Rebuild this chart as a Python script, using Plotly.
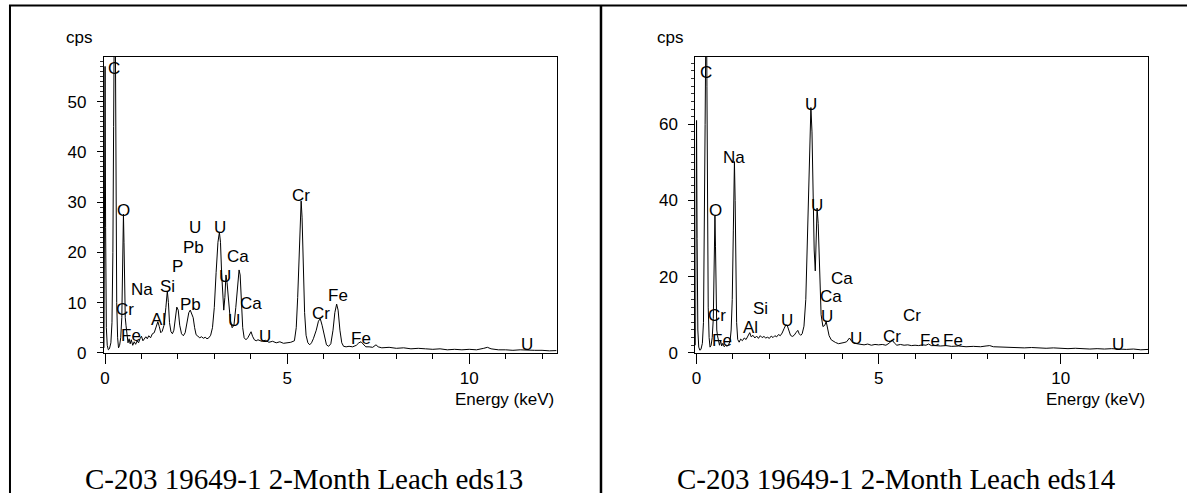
import plotly.graph_objects as go

W, H = 1187, 503

# ---------------- spectrum eds13 ----------------
energy_13 = [-0.03, -0.015, 0.0, 0.015, 0.035, 0.06, 0.09, 0.12, 0.16, 0.19, 0.215, 0.235, 0.255, 0.27, 0.285,
             0.30, 0.32, 0.345, 0.37, 0.40, 0.43, 0.46, 0.485, 0.505, 0.52, 0.535, 0.555, 0.575, 0.60, 0.63,
             0.66, 0.69, 0.72, 0.76, 0.80, 0.84, 0.88, 0.92, 0.96, 1.0, 1.04, 1.08, 1.12, 1.16, 1.20,
             1.25, 1.30, 1.35, 1.40, 1.45, 1.49, 1.53, 1.57, 1.62, 1.67, 1.71, 1.74, 1.77, 1.81, 1.85,
             1.89, 1.93, 1.97, 2.01, 2.05, 2.10, 2.15, 2.20, 2.25, 2.30, 2.34, 2.38, 2.42, 2.46, 2.50,
             2.55, 2.60, 2.65, 2.70, 2.75, 2.80, 2.85, 2.90, 2.95, 3.00, 3.05, 3.10, 3.14, 3.17, 3.20,
             3.23, 3.26, 3.29, 3.32, 3.35, 3.39, 3.44, 3.49, 3.54, 3.59, 3.64, 3.68, 3.71, 3.74, 3.78,
             3.82, 3.87, 3.92, 3.97, 4.01, 4.05, 4.10, 4.15, 4.20, 4.30, 4.40, 4.50, 4.60, 4.70, 4.80,
             4.90, 5.00, 5.10, 5.20, 5.25, 5.29, 5.33, 5.37, 5.385, 5.41, 5.44, 5.48, 5.52, 5.57, 5.62,
             5.67, 5.72, 5.80, 5.86, 5.91, 5.96, 6.02, 6.08, 6.14, 6.20, 6.26, 6.31, 6.36, 6.40, 6.45,
             6.50, 6.55, 6.62, 6.70, 6.80, 6.90, 6.97, 7.03, 7.09, 7.16, 7.25, 7.35, 7.44, 7.50, 7.60,
             7.80, 8.00, 8.20, 8.40, 8.60, 8.80, 9.00, 9.20, 9.40, 9.60, 9.80, 10.0, 10.2, 10.4, 10.5,
             10.6, 10.8, 11.0, 11.2, 11.4, 11.6, 11.8, 12.0, 12.2, 12.4]
cps_13 = [1.0, 20, 57, 25, 5, 1.5, 0.6, 0.8, 2.0, 6, 20, 45, 72, 85, 60,
          30, 10, 3, 1.0, 1.5, 3, 7, 17, 27.6, 22, 12, 7, 5.5, 3.5, 2.0,
          2.8, 1.8, 2.6, 1.5, 2.2, 1.7, 2.4, 2.0, 2.8, 3.3, 2.4, 2.7, 3.2, 2.8, 3.4,
          3.0, 3.8, 4.0, 5.0, 6.2, 5.2, 4.0, 4.3, 5.5, 9.0, 12.3, 10, 6, 4.2, 3.8,
          4.5, 7, 9.1, 8.5, 5.5, 3.8, 3.4, 4.0, 6, 8.0, 8.5, 7.6, 7.0, 5.0, 3.6,
          3.3, 3.0, 3.2, 2.9, 3.1, 2.8, 3.0, 3.5, 5, 9, 16, 22, 24, 22, 16,
          11, 8.5, 11, 15.5, 14, 10, 6.5, 5.0, 5.5, 9, 14, 16.5, 15.5, 10, 5,
          3.0, 2.6, 3.0, 3.8, 4.2, 3.3, 2.6, 2.4, 2.6, 2.3, 2.5, 2.1, 2.3, 2.0, 2.2,
          1.9, 2.0, 2.1, 2.4, 5, 11, 21, 29, 30.2, 27, 18, 8, 3.5, 2.0, 1.6,
          2.0, 2.8, 4.5, 6.3, 6.8, 5.5, 3.2, 1.6, 1.3, 1.8, 4.5, 8, 9.7, 8.5, 4.5,
          2.0, 1.3, 1.2, 1.3, 1.2, 1.5, 2.0, 2.2, 1.7, 1.2, 1.2, 1.1, 1.6, 1.2, 1.0,
          1.1, 0.9, 1.0, 0.8, 0.9, 0.8, 0.7, 0.8, 0.6, 0.7, 0.6, 0.7, 0.6, 0.9, 1.1,
          0.8, 0.6, 0.6, 0.5, 0.6, 0.5, 0.5, 0.5, 0.4, 0.45]

labels_13 = ["C", "O", "Cr", "Fe", "Na", "Al", "Si", "P", "Pb", "U", "U", "Ca", "U", "Pb", "Ca",
             "U", "U", "Cr", "Cr", "Fe", "Fe", "U"]
label_e_13 = [0.257, 0.512, 0.548, 0.712, 1.014, 1.46, 1.72, 1.992, 2.43, 2.477, 3.15, 3.655, 3.30, 2.34,
              4.0, 3.55, 4.38, 5.39, 5.92, 6.39, 7.03, 11.58]
label_c_13 = [57.6, 29.4, 9.55, 4.48, 13.6, 7.66, 14.2, 18.1, 21.97, 25.99, 25.99, 20.1, 16.24, 10.53,
              10.9, 7.47, 4.15, 32.4, 8.77, 12.5, 3.76, 2.59]

# ---------------- spectrum eds14 ----------------
energy_14 = [-0.03, -0.015, 0.0, 0.015, 0.035, 0.06, 0.09, 0.12, 0.16, 0.19, 0.215, 0.235, 0.255, 0.27, 0.285,
             0.30, 0.32, 0.345, 0.37, 0.40, 0.43, 0.46, 0.485, 0.505, 0.52, 0.535, 0.555, 0.575, 0.60, 0.63,
             0.66, 0.69, 0.72, 0.76, 0.80, 0.84, 0.88, 0.92, 0.95, 0.98, 1.01, 1.04, 1.06, 1.08, 1.10,
             1.13, 1.17, 1.21, 1.26, 1.31, 1.36, 1.41, 1.46, 1.50, 1.55, 1.60, 1.65, 1.70, 1.75, 1.80,
             1.85, 1.90, 1.95, 2.00, 2.05, 2.10, 2.15, 2.20, 2.25, 2.30, 2.35, 2.40, 2.45, 2.49, 2.53,
             2.58, 2.63, 2.68, 2.73, 2.78, 2.82, 2.86, 2.90, 2.95, 3.00, 3.05, 3.10, 3.14, 3.17, 3.20,
             3.23, 3.26, 3.29, 3.31, 3.34, 3.38, 3.42, 3.47, 3.52, 3.56, 3.60, 3.64, 3.70, 3.76, 3.82,
             3.90, 3.98, 4.05, 4.12, 4.20, 4.26, 4.32, 4.40, 4.50, 4.60, 4.70, 4.80, 4.90, 5.00, 5.10,
             5.20, 5.30, 5.37, 5.43, 5.50, 5.60, 5.70, 5.80, 5.90, 6.00, 6.10, 6.20, 6.30, 6.37, 6.45,
             6.55, 6.70, 6.85, 7.00, 7.20, 7.40, 7.60, 7.80, 7.95, 8.05, 8.15, 8.40, 8.60, 8.80, 9.00,
             9.20, 9.40, 9.60, 9.80, 10.0, 10.2, 10.4, 10.6, 10.8, 11.0, 11.2, 11.4, 11.6, 11.8, 12.0,
             12.2, 12.4]
cps_14 = [2, 30, 61, 30, 6, 1.5, 0.7, 0.9, 2.5, 8, 28, 60, 85, 95, 70,
          35, 12, 4, 1.5, 2, 4, 9, 22, 36, 28, 14, 6, 4.5, 3.0, 2.0,
          3.2, 1.8, 2.5, 1.6, 2.0, 1.7, 2.2, 3, 6, 14, 32, 50.2, 40, 20, 8,
          3.5, 2.8, 3.6, 3.2, 3.9, 3.5, 4.4, 5.3, 4.2, 4.6, 3.9, 4.4, 3.8, 4.5, 4.0,
          4.3, 3.9, 4.1, 3.8, 4.4, 4.0, 4.5, 4.2, 4.8, 4.5, 5.2, 6.3, 7.3, 7.2, 5.8,
          4.6, 4.3, 4.6, 5.3, 5.9, 5.0, 4.6, 5.0, 7, 14, 30, 52, 64.4, 58, 40,
          27, 21.5, 30, 38, 34, 20, 10, 6.9, 7.2, 8.2, 6.5, 4.5, 3.4, 3.0, 2.7,
          2.4, 2.5, 2.7, 2.9, 3.9, 3.0, 2.6, 2.4, 2.3, 2.1, 2.3, 2.0, 2.2, 2.1, 2.2,
          2.0, 2.6, 3.4, 2.6, 2.0, 2.2, 2.0, 2.1, 1.9, 2.0, 1.9, 2.1, 2.0, 2.3, 1.9,
          1.9, 1.8, 1.9, 1.7, 1.8, 1.6, 1.7, 1.6, 1.8, 1.9, 1.6, 1.5, 1.4, 1.5, 1.3,
          1.4, 1.3, 1.2, 1.3, 1.2, 1.1, 1.2, 1.1, 1.0, 1.1, 1.0, 1.1, 1.0, 0.9, 1.0,
          0.8, 0.9]

labels_14 = ["C", "U", "Na", "O", "U", "Ca", "Ca", "Cr", "Si", "U", "U", "Al", "Fe", "U", "Cr", "Cr",
             "Fe", "Fe", "U"]
label_e_14 = [0.258, 3.149, 1.033, 0.512, 3.313, 3.999, 3.68, 0.575, 1.745, 2.49, 3.57, 1.49, 0.712, 4.39,
              5.919, 5.37, 6.42, 7.03, 11.58]
label_c_14 = [75.0, 66.5, 52.5, 38.6, 39.9, 20.9, 16.0, 11.15, 12.87, 9.86, 10.73, 7.89, 4.56, 5.15,
              10.99, 5.58, 4.45, 4.45, 3.6]

captions = ["C-203 19649-1 2-Month Leach eds13", "C-203 19649-1 2-Month Leach eds14"]
x_ticks = [0, 5, 10]

SANS = "Arial, Liberation Sans, sans-serif"
SERIF = "Times New Roman, Liberation Serif, serif"


def px_x(p):
    return p / W


def px_y(p):
    return 1 - p / H


fig = go.Figure()
fig.add_trace(go.Scatter(x=energy_13, y=cps_13, mode="lines", xaxis="x", yaxis="y",
                         line=dict(color="black", width=1), showlegend=False, hoverinfo="skip"))
fig.add_trace(go.Scatter(x=energy_14, y=cps_14, mode="lines", xaxis="x2", yaxis="y2",
                         line=dict(color="black", width=1), showlegend=False, hoverinfo="skip"))

panels = [
    # plot-area pixel box and y scaling for each spectrum panel
    dict(left=101, right=555, ymax=58.9, ydt=10, ymin_dt=1, xa="x", ya="y"),
    dict(left=694, right=1148, ymax=77.7, ydt=20, ymin_dt=2, xa="x2", ya="y2"),
]
top_px, bot_px = 58, 360

axis_common = dict(showgrid=False, zeroline=False, showline=True, linecolor="black", linewidth=1,
                   mirror=True, ticks="outside", tickcolor="black", tickwidth=1,
                   tickfont=dict(family=SANS, size=17, color="black"))

for i, p in enumerate(panels):
    suffix = "" if i == 0 else "2"
    fig.update_layout(**{
        "xaxis" + suffix: dict(axis_common, domain=[px_x(p["left"]), px_x(p["right"])],
                               range=[-0.036, 12.4], tickvals=x_ticks, ticklen=10,
                               minor=dict(dtick=1, tick0=0, ticklen=5, ticks="outside",
                                          tickcolor="black", tickwidth=1),
                               anchor=p["ya"]),
        "yaxis" + suffix: dict(axis_common, domain=[px_y(bot_px), px_y(top_px)],
                               range=[0, p["ymax"]], dtick=p["ydt"], tick0=0, ticklen=6,
                               ticklabelstandoff=7,
                               minor=dict(dtick=p["ymin_dt"], tick0=0, ticklen=3, ticks="outside",
                                          tickcolor="#333", tickwidth=1),
                               anchor=p["xa"]),
    })

annotations = []
for labels, es, cs, xa, ya in [(labels_13, label_e_13, label_c_13, "x", "y"),
                               (labels_14, label_e_14, label_c_14, "x2", "y2")]:
    for t, e, c in zip(labels, es, cs):
        annotations.append(dict(x=e, y=c, xref=xa, yref=ya, text=t, showarrow=False,
                                xanchor="center", yanchor="middle", yshift=-5,
                                font=dict(family=SANS, size=17, color="black")))

for p, cps_x in [(panels[0], 76), (panels[1], 669)]:
    annotations.append(dict(x=px_x(cps_x), y=px_y(38), xref="paper", yref="paper", text="cps",
                            showarrow=False, xanchor="center", yanchor="middle",
                            font=dict(family=SANS, size=17, color="black")))
    annotations.append(dict(x=px_x(p["right"] - 1), y=px_y(408), xref="paper", yref="paper",
                            text="Energy (keV)", showarrow=False, xanchor="right", yanchor="middle",
                            font=dict(family=SANS, size=17, color="black")))

for cap, cx in zip(captions, [302, 896]):
    annotations.append(dict(x=px_x(cx), y=px_y(489), xref="paper", yref="paper", text=cap,
                            showarrow=False, xanchor="center", yanchor="middle",
                            font=dict(family=SERIF, size=29, color="black")))

# table rules framing the two cells
shapes = [
    dict(type="line", xref="paper", yref="paper", x0=px_x(6), x1=1, y0=px_y(5.7), y1=px_y(5.7),
         line=dict(color="black", width=2)),
    dict(type="line", xref="paper", yref="paper", x0=px_x(7), x1=px_x(7), y0=px_y(5), y1=0,
         line=dict(color="black", width=2)),
    dict(type="line", xref="paper", yref="paper", x0=px_x(599.5), x1=px_x(599.5), y0=px_y(5), y1=0,
         line=dict(color="black", width=2.5)),
]

fig.update_layout(width=W, height=H, margin=dict(l=0, r=0, t=0, b=0), autosize=False,
                  paper_bgcolor="white", plot_bgcolor="white",
                  annotations=annotations, shapes=shapes, showlegend=False)

fig.write_html("out.html")
